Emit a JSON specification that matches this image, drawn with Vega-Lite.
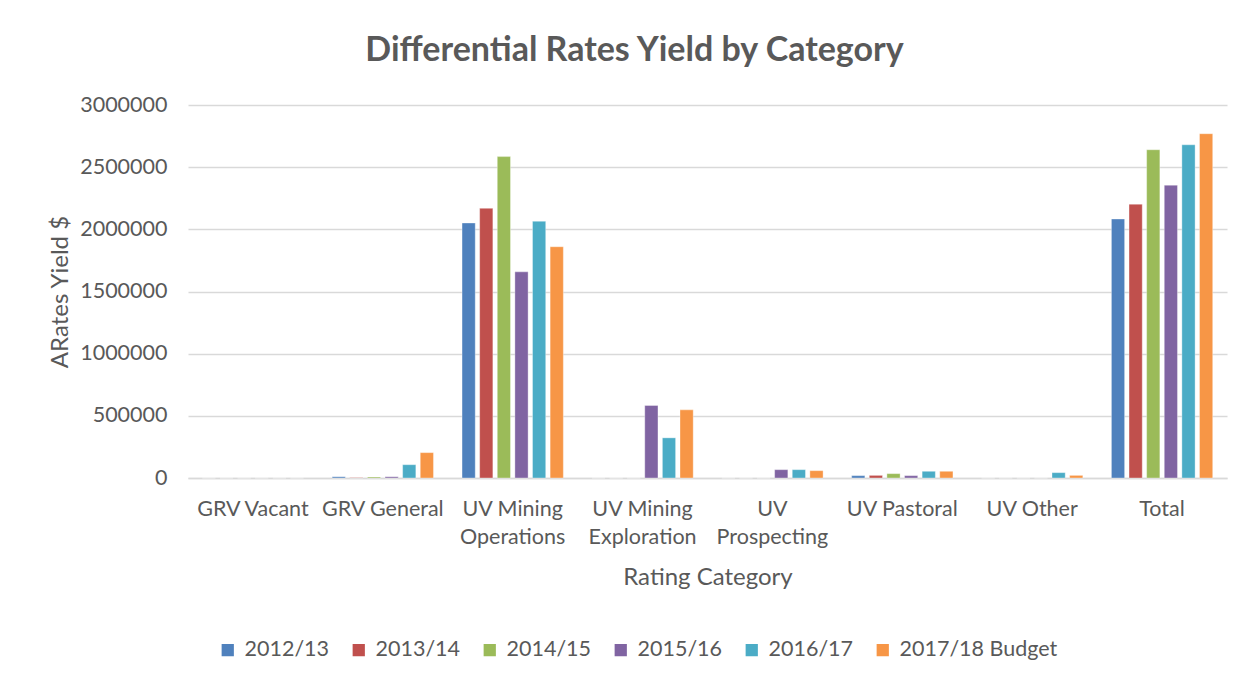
{
  "$schema": "https://vega.github.io/schema/vega-lite/v6.json",
  "autosize": "none",
  "width": 1039,
  "height": 373,
  "padding": {"left": 188, "top": 105, "right": 28, "bottom": 204},
  "background": "white",
  "title": {
    "text": "Differential Rates Yield by Category",
    "font": "Lato",
    "fontSize": 34,
    "fontWeight": "bold",
    "color": "#595959",
    "anchor": "middle",
    "dx": -73,
    "offset": 26
  },
  "data": {
    "values": [
      {"category": "GRV Vacant", "year": "2012/13", "yield": 0},
      {"category": "GRV Vacant", "year": "2013/14", "yield": 0},
      {"category": "GRV Vacant", "year": "2014/15", "yield": 0},
      {"category": "GRV Vacant", "year": "2015/16", "yield": 0},
      {"category": "GRV Vacant", "year": "2016/17", "yield": 0},
      {"category": "GRV Vacant", "year": "2017/18 Budget", "yield": 0},
      {"category": "GRV General", "year": "2012/13", "yield": 10000},
      {"category": "GRV General", "year": "2013/14", "yield": 3000},
      {"category": "GRV General", "year": "2014/15", "yield": 8000},
      {"category": "GRV General", "year": "2015/16", "yield": 10000},
      {"category": "GRV General", "year": "2016/17", "yield": 107000},
      {"category": "GRV General", "year": "2017/18 Budget", "yield": 204000},
      {"category": "UV Mining Operations", "year": "2012/13", "yield": 2051000},
      {"category": "UV Mining Operations", "year": "2013/14", "yield": 2169000},
      {"category": "UV Mining Operations", "year": "2014/15", "yield": 2585000},
      {"category": "UV Mining Operations", "year": "2015/16", "yield": 1658000},
      {"category": "UV Mining Operations", "year": "2016/17", "yield": 2065000},
      {"category": "UV Mining Operations", "year": "2017/18 Budget", "yield": 1860000},
      {"category": "UV Mining Exploration", "year": "2012/13", "yield": 0},
      {"category": "UV Mining Exploration", "year": "2013/14", "yield": 0},
      {"category": "UV Mining Exploration", "year": "2014/15", "yield": 0},
      {"category": "UV Mining Exploration", "year": "2015/16", "yield": 583000},
      {"category": "UV Mining Exploration", "year": "2016/17", "yield": 323000},
      {"category": "UV Mining Exploration", "year": "2017/18 Budget", "yield": 548000},
      {"category": "UV Prospecting", "year": "2012/13", "yield": 0},
      {"category": "UV Prospecting", "year": "2013/14", "yield": 0},
      {"category": "UV Prospecting", "year": "2014/15", "yield": 0},
      {"category": "UV Prospecting", "year": "2015/16", "yield": 67000},
      {"category": "UV Prospecting", "year": "2016/17", "yield": 67000},
      {"category": "UV Prospecting", "year": "2017/18 Budget", "yield": 59000},
      {"category": "UV Pastoral", "year": "2012/13", "yield": 19000},
      {"category": "UV Pastoral", "year": "2013/14", "yield": 21000},
      {"category": "UV Pastoral", "year": "2014/15", "yield": 35000},
      {"category": "UV Pastoral", "year": "2015/16", "yield": 19000},
      {"category": "UV Pastoral", "year": "2016/17", "yield": 54000},
      {"category": "UV Pastoral", "year": "2017/18 Budget", "yield": 54000},
      {"category": "UV Other", "year": "2012/13", "yield": 0},
      {"category": "UV Other", "year": "2013/14", "yield": 0},
      {"category": "UV Other", "year": "2014/15", "yield": 0},
      {"category": "UV Other", "year": "2015/16", "yield": 0},
      {"category": "UV Other", "year": "2016/17", "yield": 43000},
      {"category": "UV Other", "year": "2017/18 Budget", "yield": 21000},
      {"category": "Total", "year": "2012/13", "yield": 2083000},
      {"category": "Total", "year": "2013/14", "yield": 2202000},
      {"category": "Total", "year": "2014/15", "yield": 2640000},
      {"category": "Total", "year": "2015/16", "yield": 2355000},
      {"category": "Total", "year": "2016/17", "yield": 2680000},
      {"category": "Total", "year": "2017/18 Budget", "yield": 2769000}
    ]
  },
  "mark": {"type": "bar", "stroke": "white", "strokeOpacity": 0.35, "strokeWidth": 1},
  "encoding": {
    "x": {
      "field": "category",
      "type": "nominal",
      "sort": ["GRV Vacant", "GRV General", "UV Mining Operations", "UV Mining Exploration", "UV Prospecting", "UV Pastoral", "UV Other", "Total"],
      "scale": {"paddingInner": 0.22, "paddingOuter": 0.11},
      "axis": {
        "title": "Rating Category",
        "labelAngle": 0,
        "labelExpr": "datum.value == 'UV Mining Operations' ? ['UV Mining', 'Operations'] : datum.value == 'UV Mining Exploration' ? ['UV Mining', 'Exploration'] : datum.value == 'UV Prospecting' ? ['UV', 'Prospecting'] : datum.value",
        "labelLineHeight": 28,
        "labelPadding": 20,
        "labelLimit": 200,
        "ticks": false,
        "domain": true,
        "domainColor": "#d9d9d9",
        "domainWidth": 1.3,
        "titlePadding": 18
      }
    },
    "xOffset": {
      "field": "year",
      "type": "nominal",
      "sort": ["2012/13", "2013/14", "2014/15", "2015/16", "2016/17", "2017/18 Budget"],
      "scale": {"paddingInner": 0.25, "paddingOuter": 0}
    },
    "y": {
      "field": "yield",
      "type": "quantitative",
      "scale": {"domain": [0, 3000000], "nice": false},
      "axis": {
        "title": "ARates Yield $",
        "values": [0, 500000, 1000000, 1500000, 2000000, 2500000, 3000000],
        "format": "d",
        "ticks": false,
        "domain": false,
        "labelPadding": 21,
        "titlePadding": 7
      }
    },
    "color": {
      "field": "year",
      "type": "nominal",
      "sort": ["2012/13", "2013/14", "2014/15", "2015/16", "2016/17", "2017/18 Budget"],
      "scale": {
        "domain": ["2012/13", "2013/14", "2014/15", "2015/16", "2016/17", "2017/18 Budget"],
        "range": ["#4F81BD", "#C0504D", "#9BBB59", "#8064A2", "#4BACC6", "#F79646"]
      },
      "legend": {
        "title": null,
        "orient": "none",
        "direction": "horizontal",
        "legendX": 29,
        "legendY": 534,
        "symbolType": "square",
        "symbolSize": 150,
        "symbolStrokeWidth": 0,
        "symbolOpacity": 1,
        "labelFontSize": 21.5,
        "labelFont": "Lato",
        "labelColor": "#595959",
        "labelOffset": 6,
        "columnPadding": 18,
        "labelLimit": 300
      }
    }
  },
  "config": {
    "view": {"stroke": null},
    "axis": {
      "labelFont": "Lato",
      "labelFontSize": 21.5,
      "labelColor": "#595959",
      "titleFont": "Lato",
      "titleFontSize": 24,
      "titleFontWeight": "normal",
      "titleColor": "#595959",
      "gridColor": "#d9d9d9",
      "gridWidth": 1.3
    },
    "axisX": {"grid": false},
    "axisY": {"grid": true}
  }
}
